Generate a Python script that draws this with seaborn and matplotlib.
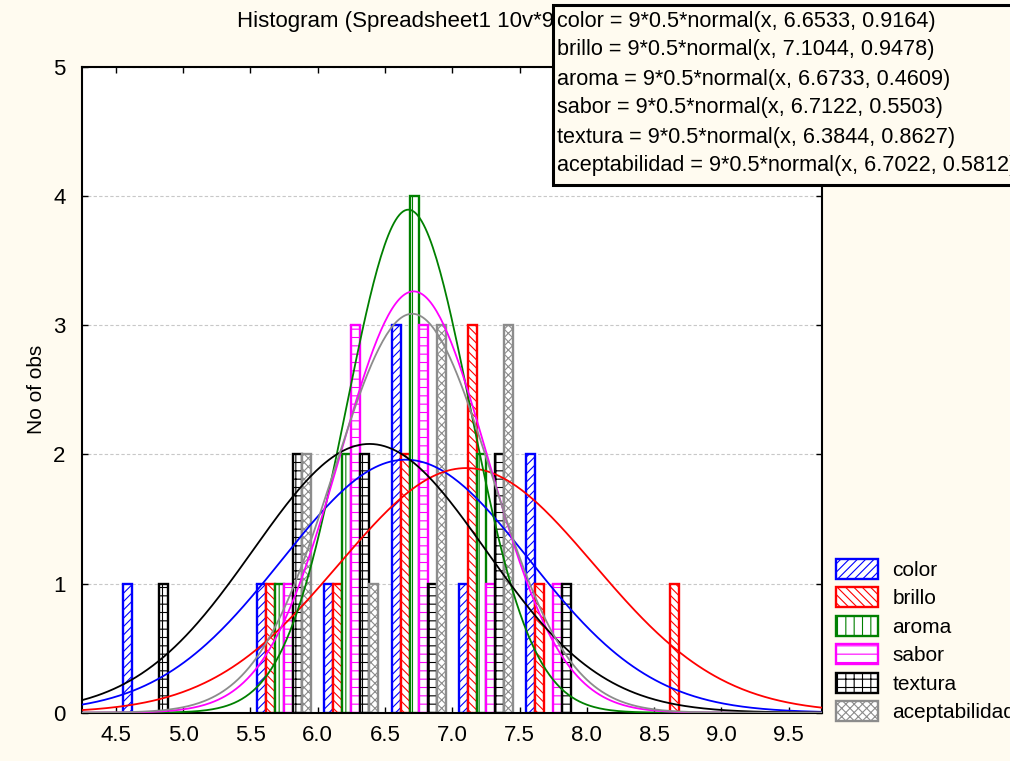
import numpy as np
import pandas as pd
import matplotlib
matplotlib.use("Agg")
import matplotlib.pyplot as plt
from matplotlib.patches import Rectangle, Patch
import seaborn as sns

# histogram counts (bins of width 0.5)
bin_centers = [4.75, 5.25, 5.75, 6.25, 6.75, 7.25, 7.75, 8.25, 8.75]
variables = ["color", "brillo", "aroma", "sabor", "textura", "aceptabilidad"]
color_counts = [1, 0, 1, 1, 3, 1, 2, 0, 0]
brillo_counts = [0, 0, 1, 1, 2, 3, 1, 0, 1]
aroma_counts = [0, 0, 1, 2, 4, 2, 0, 0, 0]
sabor_counts = [0, 0, 1, 3, 3, 1, 1, 0, 0]
textura_counts = [1, 0, 2, 2, 1, 2, 1, 0, 0]
acept_counts = [0, 0, 2, 1, 3, 3, 0, 0, 0]

# fitted normal parameters from the equation box
means = [6.6533, 7.1044, 6.6733, 6.7122, 6.3844, 6.7022]
sds = [0.9164, 0.9478, 0.4609, 0.5503, 0.8627, 0.5812]

colors = ["#0000ff", "#ff0000", "#008000", "#ff00ff", "#000000", "#8c8c8c"]
hatches = ["////", "\\\\\\\\", "||", "--", "++", "xxxx"]
bg = "#fffbf0"

sns.set_style("white")
plt.rcParams["font.family"] = ["Liberation Sans", "DejaVu Sans"]
plt.rcParams["text.color"] = "black"
plt.rcParams["axes.labelcolor"] = "black"
plt.rcParams["hatch.linewidth"] = 0.8

counts = [color_counts, brillo_counts, aroma_counts, sabor_counts, textura_counts, acept_counts]
rows = []
for var, cnt in zip(variables, counts):
    for b, c in zip(bin_centers, cnt):
        if c > 0:
            rows.append({"bin": b, "variable": var, "count": c})
df = pd.DataFrame(rows)

fig = plt.figure(figsize=(10.1, 7.61), dpi=100, facecolor=bg)
ax = fig.add_axes([0.0815, 0.0635, 0.7326, 0.8485])
ax.set_facecolor("white")

sns.barplot(data=df, x="bin", y="count", hue="variable", hue_order=variables,
            native_scale=True, width=0.8, dodge=True, legend=False, ax=ax,
            err_kws={"linewidth": 0})

for cont, col, h in zip(ax.containers, colors, hatches):
    for bar in cont:
        bar.set_facecolor("white")
        bar.set_edgecolor(col)
        bar.set_hatch(h)
        bar.set_linewidth(1.7)
        bar.set_zorder(2)

# fitted curves: 9*0.5*normal(x, mu, sd)
xs = np.linspace(4.25, 9.75, 400)
curves = []
for var, mu, sd in zip(variables, means, sds):
    ys = 9 * 0.5 * np.exp(-0.5 * ((xs - mu) / sd) ** 2) / (sd * np.sqrt(2 * np.pi))
    curves.append(pd.DataFrame({"x": xs, "y": ys, "variable": var}))
curve_df = pd.concat(curves)
sns.lineplot(data=curve_df, x="x", y="y", hue="variable", hue_order=variables,
             palette=colors, linewidth=1.3, legend=False, ax=ax, zorder=3)

ax.set_xlim(4.25, 9.75)
ax.set_ylim(0, 5)
ax.set_xticks([4.5, 5.0, 5.5, 6.0, 6.5, 7.0, 7.5, 8.0, 8.5, 9.0, 9.5])
ax.set_xticklabels([f"{v:.1f}" for v in ax.get_xticks()])
ax.set_yticks([0, 1, 2, 3, 4, 5])
ax.tick_params(axis="both", direction="in", length=4, width=1, labelsize=16,
               colors="black", bottom=True, left=True, right=True, top=True)
ax.tick_params(axis="x", pad=9)
ax.tick_params(axis="y", pad=12)
ax.yaxis.grid(True, linestyle=(0, (3, 2)), color="#c8c8c8", linewidth=0.8)
ax.set_axisbelow(True)
for s in ax.spines.values():
    s.set_color("black")
    s.set_linewidth(1.5)
ax.set_xlabel("")
ax.set_ylabel("No of obs", fontsize=15, labelpad=5)

fig.text(237 / 1010, 1 - 22 / 761, "Histogram (Spreadsheet1 10v*9c)", fontsize=16,
         ha="left", va="center", zorder=0.5)

# equation box
box = Rectangle((553 / 1010, 1 - 185 / 761), 470 / 1010, 180 / 761,
                transform=fig.transFigure, facecolor=bg, edgecolor="black",
                linewidth=2.2, zorder=2)
fig.add_artist(box)
for i, (var, mu, sd) in enumerate(zip(variables, means, sds)):
    fig.text(557 / 1010, 1 - (21 + i * 29.0) / 761,
             f"{var} = 9*0.5*normal(x, {mu:.4f}, {sd:.4f})",
             fontsize=15.6, ha="left", va="center", zorder=3)

handles = [Patch(facecolor="white", edgecolor=c, hatch=h, linewidth=1.7)
           for c, h in zip(colors, hatches)]
fig.legend(handles, variables, loc="upper left",
           bbox_to_anchor=(836 / 1010, 1 - 559 / 761), frameon=False,
           fontsize=15, borderpad=0, handlelength=2.0, handleheight=1.1,
           handletextpad=0.7, labelspacing=0.35, borderaxespad=0)

fig.savefig("out.png", dpi=100, facecolor=bg)
